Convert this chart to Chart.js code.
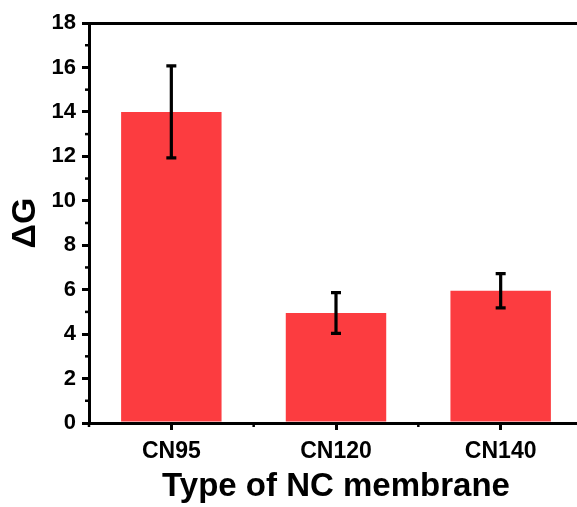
<!DOCTYPE html>
<html>
<head>
<meta charset="utf-8">
<script src="https://cdn.jsdelivr.net/npm/chart.js@4.4.1/dist/chart.umd.min.js"></script>
<style>
  body { margin: 0; background: #fff; overflow: hidden; }
  #wrap { width: 590px; height: 507px; }
</style>
</head>
<body>
<div id="wrap"><canvas id="chart"></canvas></div>
<script>
// chart data
const membranes = ['CN95', 'CN120', 'CN140'];
const deltaG = [14.0, 4.95, 5.95];
const deltaGErr = [2.07, 0.92, 0.77];
const yTicks = { min: 0, max: 18, step: 2 };

const barColor = 'rgb(252, 60, 64)';

// error bars and minor ticks, placed with the chart's own scales
const extrasPlugin = {
    id: 'extras',
    afterDatasetsDraw(chart) {
        const ctx = chart.ctx;
        const x = chart.scales.x;
        const y = chart.scales.y;
        const area = chart.chartArea;
        ctx.save();
        ctx.strokeStyle = '#000';
        ctx.lineWidth = 3.2;
        ctx.lineCap = 'butt';
        deltaG.forEach((v, i) => {
            const px = x.getPixelForValue(i);
            const top = y.getPixelForValue(v + deltaGErr[i]);
            const bot = y.getPixelForValue(v - deltaGErr[i]);
            ctx.beginPath();
            ctx.moveTo(px, top);
            ctx.lineTo(px, bot);
            ctx.moveTo(px - 5, top);
            ctx.lineTo(px + 5, top);
            ctx.moveTo(px - 5, bot);
            ctx.lineTo(px + 5, bot);
            ctx.stroke();
        });

        // minor ticks on y (odd values)
        ctx.lineWidth = 2.5;
        for (let v = yTicks.min + 1; v < yTicks.max; v += yTicks.step) {
            const py = y.getPixelForValue(v);
            ctx.beginPath();
            ctx.moveTo(area.left - 4, py);
            ctx.lineTo(area.left, py);
            ctx.stroke();
        }
        // minor ticks on x (between categories)
        for (let i = 0; i <= membranes.length; i++) {
            const px = x.getPixelForValue(i - 0.5);
            ctx.beginPath();
            ctx.moveTo(px, area.bottom);
            ctx.lineTo(px, area.bottom + 4);
            ctx.stroke();
        }
        ctx.restore();
    }
};

const tickFont = { family: 'Liberation Sans, Arial, sans-serif', weight: 'bold', size: 21 };
const titleFont = { family: 'Liberation Sans, Arial, sans-serif', weight: 'bold', size: 33 };

new Chart(document.getElementById('chart'), {
    type: 'bar',
    data: {
        labels: membranes,
        datasets: [{
            data: deltaG,
            backgroundColor: barColor,
            borderWidth: 0,
            barPercentage: 1,
            categoryPercentage: 0.61
        }]
    },
    options: {
        responsive: true,
        maintainAspectRatio: false,
        animation: false,
        layout: { padding: { left: 0, right: 7, top: 0, bottom: 0 } },
        plugins: { legend: { display: false }, tooltip: { enabled: false } },
        scales: {
            x: {
                position: 'bottom',
                grid: { display: true, drawOnChartArea: false, offset: false, tickLength: 7, tickWidth: 3, tickColor: '#000', lineWidth: 3 },
                border: { display: true, color: '#000', width: 3 },
                ticks: { color: '#000', font: { ...tickFont, size: 23 }, padding: 8 },
                title: { display: true, text: 'Type of NC membrane', color: '#000', font: titleFont, padding: { top: 6, bottom: 0 } },
                afterFit(scale) { scale.height = 84; }
            },
            xTop: {
                type: 'category',
                labels: membranes,
                position: 'top',
                grid: { display: true, drawOnChartArea: false, drawTicks: false, lineWidth: 3 },
                border: { display: true, color: '#000', width: 3 },
                ticks: { display: false },
                afterFit(scale) { scale.height = 23; }
            },
            y: {
                min: yTicks.min,
                max: yTicks.max,
                ticks: { stepSize: yTicks.step, color: '#000', font: { ...tickFont, size: 22 }, padding: 6 },
                grid: { display: true, drawOnChartArea: false, tickLength: 7, tickWidth: 3, tickColor: '#000', lineWidth: 3 },
                border: { display: true, color: '#000', width: 3 },
                title: { display: true, text: 'ΔG', color: '#000', font: { ...titleFont, size: 34 }, padding: { top: 5, bottom: 0 } },
                afterFit(scale) { scale.width = 89; }
            }
        }
    },
    plugins: [extrasPlugin]
});
</script>
</body>
</html>
